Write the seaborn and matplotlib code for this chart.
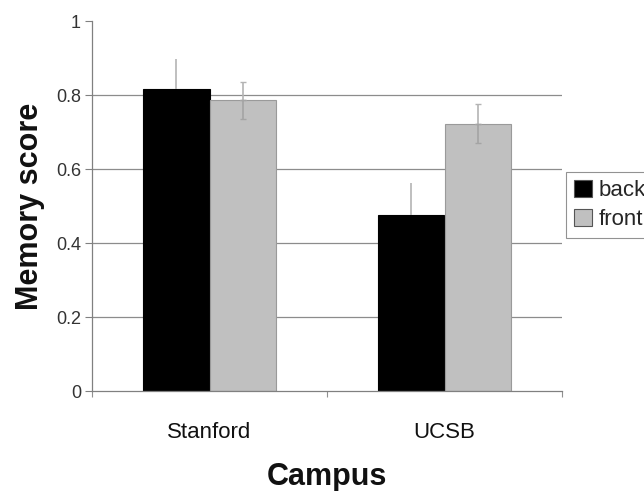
import matplotlib
matplotlib.use("Agg")
import matplotlib.pyplot as plt
import matplotlib.ticker as mticker
from matplotlib.patches import Patch
import seaborn as sns
import pandas as pd
import numpy as np

campuses = ["Stanford", "UCSB"]
positions = ["back", "front"]
back_scores = [0.816, 0.477]
front_scores = [0.786, 0.722]
back_err = [0.08, 0.085]
front_err = [0.05, 0.053]

colors = {"back": "#000000", "front": "#c0c0c0"}
edge_colors = {"back": "#000000", "front": "#9a9a9a"}
lower_err_colors = {"back": "#000000", "front": "#a4a4a4"}

df = pd.DataFrame({
    "Campus": campuses * 2,
    "Position": ["back"] * 2 + ["front"] * 2,
    "Score": back_scores + front_scores,
})
errs = {"back": back_err, "front": front_err}

sns.set_theme(style="white")
plt.rcParams["font.family"] = ["Liberation Sans", "DejaVu Sans"]

fig = plt.figure(figsize=(6.44, 4.91), dpi=100)
ax = fig.add_axes([92 / 644, 1 - 391 / 491, 470 / 644, 370 / 491])

sns.barplot(data=df, x="Campus", y="Score", hue="Position", order=campuses,
            hue_order=positions, palette=colors, width=0.57, errorbar=None,
            saturation=1, ax=ax, legend=False, zorder=2)

for cont, pos in zip(ax.containers, positions):
    xs, hs = [], []
    for bar in cont:
        bar.set_edgecolor(edge_colors[pos])
        bar.set_linewidth(0.8)
        xs.append(bar.get_x() + bar.get_width() / 2)
        hs.append(bar.get_height())
    e = np.array(errs[pos])
    zeros = np.zeros_like(e)
    ax.errorbar(xs, hs, yerr=[zeros, e], fmt="none", ecolor="#b4b4b4",
                elinewidth=1.2, capsize=2 if pos == "front" else 0, zorder=3)
    ax.errorbar(xs, hs, yerr=[e, zeros], fmt="none", ecolor=lower_err_colors[pos],
                elinewidth=1.2, capsize=2 if pos == "front" else 0, zorder=3)

ax.set_ylim(0, 1)
ax.set_xlim(-0.5, 1.5)
ax.set_yticks([0, 0.2, 0.4, 0.6, 0.8, 1.0])
ax.yaxis.set_major_formatter(mticker.FuncFormatter(lambda v, p: f"{v:g}"))
ax.yaxis.grid(True, color="#8c8c8c", linewidth=0.9, zorder=0)
ax.set_axisbelow(True)
gl = ax.yaxis.get_gridlines()
gl[0].set_visible(False)
gl[-1].set_visible(False)

ax.tick_params(axis="y", which="major", length=5, width=0.8, color="#808080",
               labelsize=13, pad=3, labelcolor="#333333", left=True)
ax.tick_params(axis="x", which="major", length=0, labelsize=16, pad=22,
               labelcolor="#111111")
ax.set_xticks([-0.5, 0.5, 1.5], minor=True)
ax.tick_params(axis="x", which="minor", length=4, width=0.8, color="#909090",
               bottom=True)

for s in ["top", "right"]:
    ax.spines[s].set_visible(False)
for s in ["left", "bottom"]:
    ax.spines[s].set_color("#808080")
    ax.spines[s].set_linewidth(0.9)

ax.set_ylabel("Memory score", fontsize=22, fontweight="bold", color="#111111")
ax.yaxis.set_label_coords(-0.10, 0.5)
ax.set_xlabel("Campus", fontsize=22, fontweight="bold", color="#111111")
ax.xaxis.set_label_coords(0.5, -0.193)

handles = [Patch(facecolor=colors[p], edgecolor="#555555", linewidth=0.8) for p in positions]
leg = fig.legend(handles, positions, loc="upper left",
                 bbox_to_anchor=(566 / 644, 1 - 172 / 491), fontsize=16,
                 frameon=True, fancybox=False, edgecolor="#777777",
                 handlelength=0.8, handleheight=0.8, handletextpad=0.3,
                 labelspacing=0.35, borderpad=0.35, borderaxespad=0)
leg.get_frame().set_linewidth(0.8)

fig.savefig("out.png", dpi=100)
